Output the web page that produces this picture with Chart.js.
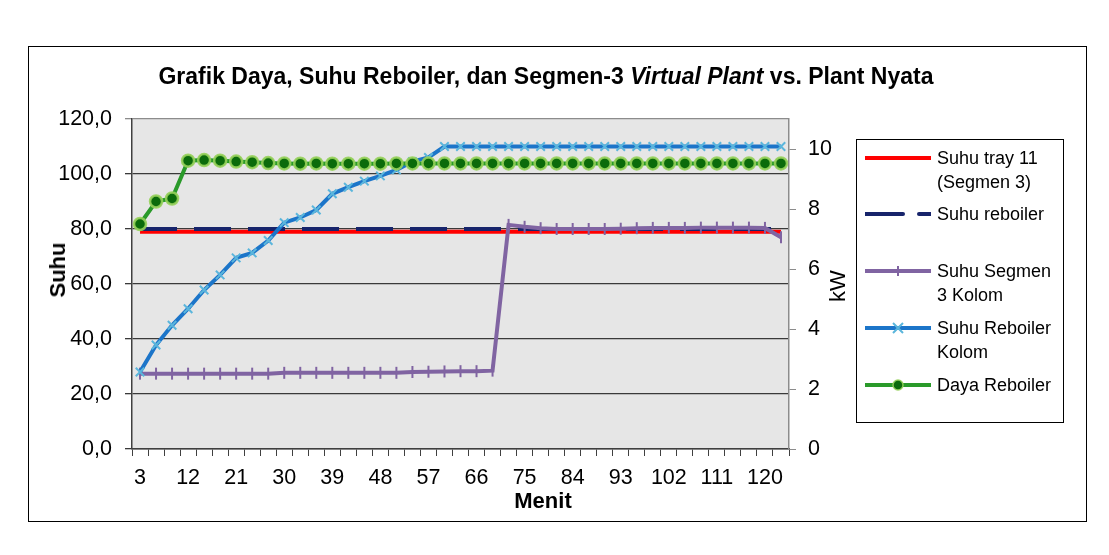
<!DOCTYPE html>
<html>
<head>
<meta charset="utf-8">
<script src="https://cdn.jsdelivr.net/npm/chart.js@4.4.1/dist/chart.umd.min.js"></script>
<style>
  body { margin:0; background:#fff; font-family:"Liberation Sans", Arial, sans-serif; }
  #wrap { position:relative; width:1109px; height:555px; overflow:hidden; }
  #bingkai { position:absolute; left:28px; top:46px; width:1059px; height:476px; border:1px solid #000; box-sizing:border-box; }
  #grafik { position:absolute; left:0; top:0; }
  .judul { position:absolute; left:0; width:1092px; top:62px; text-align:center; font-weight:bold; font-size:23px; line-height:28px; white-space:nowrap; }
  .sumbu { position:absolute; white-space:nowrap; font-size:22px; line-height:26px; transform:translate(-50%,-50%); }
  .tebal { font-weight:bold; }
  .rot { transform:translate(-50%,-50%) rotate(-90deg); }
  #legenda { position:absolute; left:856px; top:139px; width:208px; height:284px; border:1px solid #000; box-sizing:border-box; background:#fff; }
  .item { position:absolute; left:0; width:200px; }
  .item svg { position:absolute; left:8px; top:-10px; }
  .item span { position:absolute; left:80px; top:-12px; font-size:18px; line-height:24px; white-space:nowrap; }
</style>
</head>
<body>
<div id="wrap">
  <div id="bingkai"></div>
  <canvas id="grafik" width="1109" height="555"></canvas>
  <div class="judul">Grafik Daya, Suhu Reboiler, dan Segmen-3 <i>Virtual Plant</i> vs. Plant Nyata</div>
  <div class="sumbu tebal rot" style="left:58px; top:270px;">Suhu</div>
  <div class="sumbu rot" style="left:838px; top:286px;">kW</div>
  <div class="sumbu tebal" style="left:543px; top:501px;">Menit</div>
  <div id="legenda"></div>
</div>
<script>
// menit (sumbu x)
const menit = [3, 6, 9, 12, 15, 18, 21, 24, 27, 30, 33, 36, 39, 42, 45, 48, 51, 54, 57, 60, 63,
  66, 69, 72, 75, 78, 81, 84, 87, 90, 93, 96, 99, 102, 105, 108, 111, 114, 117, 120, 123];

// suhu (sumbu kiri)
const suhuTray11 = [79, 79, 79, 79, 79, 79, 79, 79, 79, 79, 79, 79, 79, 79, 79, 79, 79, 79, 79, 79, 79,
  79, 79, 79, 79, 79, 79, 79, 79, 79, 79, 79, 79, 79, 79, 79, 79, 79, 79, 79, 79];
const suhuReboiler = [80, 80, 80, 80, 80, 80, 80, 80, 80, 80, 80, 80, 80, 80, 80, 80, 80, 80, 80, 80, 80,
  80, 80, 80, 80, 80, 80, 80, 80, 80, 80, 80, 80, 80, 80, 80, 80, 80, 80, 80, 80];
const suhuSegmen3Kolom = [27.4, 27.4, 27.4, 27.4, 27.4, 27.4, 27.4, 27.4, 27.4, 27.7, 27.7, 27.7, 27.7, 27.7,
  27.7, 27.7, 27.7, 28.0, 28.1, 28.2, 28.3, 28.3, 28.5, 81.5, 80.8, 80.3, 80.0, 80.0, 80.0, 80.0, 80.1,
  80.3, 80.4, 80.4, 80.4, 80.5, 80.5, 80.5, 80.5, 80.4, 77.0];
const suhuReboilerKolom = [28, 37.8, 45, 51, 57.8, 63.3, 69.5, 71.3, 75.8, 82.3, 84.2, 86.9, 92.8, 95.2,
  97.4, 99.3, 101.5, 104.5, 106, 110, 110, 110, 110, 110, 110, 110, 110, 110, 110, 110, 110, 110, 110,
  110, 110, 110, 110, 110, 110, 110, 110];

// daya (sumbu kanan, kW)
const dayaReboiler = [7.5, 8.25, 8.35, 9.61, 9.63, 9.61, 9.58, 9.56, 9.53, 9.52, 9.51, 9.52, 9.51, 9.51,
  9.51, 9.51, 9.52, 9.52, 9.52, 9.52, 9.52, 9.52, 9.52, 9.52, 9.52, 9.52, 9.52, 9.52, 9.52, 9.52, 9.52,
  9.52, 9.52, 9.52, 9.52, 9.52, 9.52, 9.52, 9.52, 9.52, 9.52];

const labelSuhu = ['0,0', '20,0', '40,0', '60,0', '80,0', '100,0', '120,0'];

Chart.defaults.font.family = '"Liberation Sans", Arial, sans-serif';
Chart.defaults.color = '#000';

const latar = {
  id: 'latar',
  beforeDraw(chart) {
    const { ctx, chartArea: a } = chart;
    ctx.save();
    ctx.fillStyle = '#e6e6e6';
    ctx.fillRect(a.left, a.top, a.right - a.left, a.bottom - a.top);
    ctx.restore();
  }
};

const datasets = [
  {
    label: ['Suhu tray 11', '(Segmen 3)'],
    data: suhuTray11, yAxisID: 'y', order: 5,
    borderColor: '#ff0000', borderWidth: 4, pointRadius: 0
  },
  {
    label: ['Suhu reboiler'],
    data: suhuReboiler, yAxisID: 'y', order: 4,
    borderColor: '#17246b', borderWidth: 4, borderDash: [37, 17], pointRadius: 0
  },
  {
    label: ['Suhu Segmen', '3 Kolom'],
    data: suhuSegmen3Kolom, yAxisID: 'y', order: 3,
    borderColor: '#8064a2', borderWidth: 4,
    pointStyle: 'line', pointRotation: 90, pointRadius: 6,
    pointBorderColor: '#8064a2', pointBorderWidth: 2
  },
  {
    label: ['Suhu Reboiler', 'Kolom'],
    data: suhuReboilerKolom, yAxisID: 'y', order: 2,
    borderColor: '#1c75c9', borderWidth: 4,
    pointStyle: 'crossRot', pointRadius: 6,
    pointBorderColor: '#5bb6dc', pointBorderWidth: 2
  },
  {
    label: ['Daya Reboiler'],
    data: dayaReboiler, yAxisID: 'y1', order: 1,
    borderColor: '#2a9a2a', borderWidth: 4,
    pointStyle: 'circle', pointRadius: 6,
    pointBackgroundColor: '#0b6b0b', pointBorderColor: 'rgba(150,210,90,0.9)', pointBorderWidth: 2.5
  }
];

new Chart(document.getElementById('grafik'), {
  type: 'line',
  data: { labels: menit, datasets: datasets },
  options: {
    responsive: false,
    animation: false,
    devicePixelRatio: 1,
    layout: { padding: { left: 45, right: 260, top: 119, bottom: 58 } },
    elements: { line: { tension: 0 } },
    plugins: { legend: { display: false }, tooltip: { enabled: false } },
    scales: {
      x: {
        offset: true,
        grid: { offset: true, drawOnChartArea: false, drawTicks: true, tickLength: 7, color: '#404040' },
        border: { display: true, color: '#404040', width: 1.5 },
        ticks: {
          autoSkip: false, maxRotation: 0, minRotation: 0, padding: 9,
          font: { size: 21.5 },
          callback: (v, i) => (i % 3 === 0 ? menit[i] : '')
        },
        afterFit(s) { s.height = 48; }
      },
      y: {
        position: 'left', min: 0, max: 120,
        ticks: { stepSize: 20, padding: 13, font: { size: 21.5 }, callback: (v, i) => labelSuhu[i] },
        grid: { color: c => (c.tick && c.tick.value === 120 ? '#8c8c8c' : '#3a3a3a'), lineWidth: 1.3, tickLength: 7 },
        border: { color: '#404040', width: 1.5 },
        afterFit(s) { s.width = 87; }
      },
      y1: {
        position: 'right', min: 0, max: 11,
        ticks: { stepSize: 2, includeBounds: false, padding: 12, font: { size: 21.5 } },
        grid: { drawOnChartArea: false, tickLength: 7, color: '#8c8c8c' },
        border: { color: '#8c8c8c', width: 1.5 },
        afterFit(s) { s.width = 60; }
      }
    }
  },
  plugins: [latar]
});

// legenda
const contoh = [
  '<line x1="0" y1="10" x2="66" y2="10" stroke="#ff0000" stroke-width="4"/>',
  '<line x1="0" y1="10" x2="38" y2="10" stroke="#17246b" stroke-width="4" stroke-linecap="round"/><line x1="54" y1="10" x2="66" y2="10" stroke="#17246b" stroke-width="4" stroke-linecap="round"/>',
  '<line x1="0" y1="10" x2="66" y2="10" stroke="#8064a2" stroke-width="4"/><line x1="33" y1="5" x2="33" y2="15" stroke="#8064a2" stroke-width="2"/>',
  '<line x1="0" y1="10" x2="66" y2="10" stroke="#1c75c9" stroke-width="4"/><path d="M28 5 L38 15 M38 5 L28 15" stroke="#5bb6dc" stroke-width="2"/>',
  '<line x1="0" y1="10" x2="66" y2="10" stroke="#2a9a2a" stroke-width="4"/><circle cx="33" cy="10" r="5" fill="#0b6b0b" stroke="rgba(150,210,90,0.9)" stroke-width="1.5"/>'
];
const barisY = [18, 74, 131, 188, 245];
const legenda = document.getElementById('legenda');
datasets.forEach((d, i) => {
  const el = document.createElement('div');
  el.className = 'item';
  el.style.top = barisY[i] + 'px';
  el.innerHTML = '<svg width="66" height="20">' + contoh[i] + '</svg><span>' + d.label.join('<br>') + '</span>';
  legenda.appendChild(el);
});
</script>
</body>
</html>
